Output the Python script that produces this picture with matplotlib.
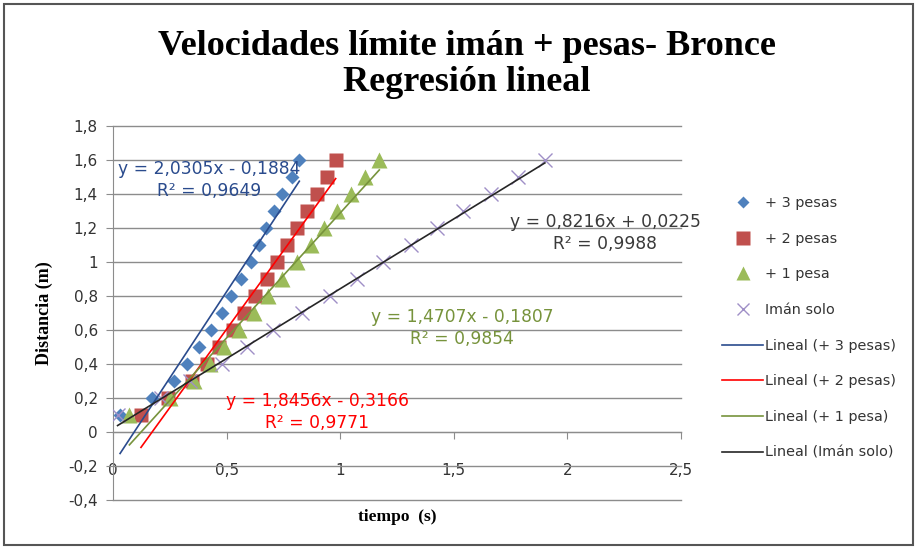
import numpy as np
import matplotlib
matplotlib.use("Agg")
import matplotlib.pyplot as plt
from matplotlib.lines import Line2D
from matplotlib.patches import Rectangle
from matplotlib.ticker import FuncFormatter

# --- data ---
dist = [0.1, 0.2, 0.3, 0.4, 0.5, 0.6, 0.7, 0.8, 0.9, 1.0, 1.1, 1.2, 1.3, 1.4, 1.5, 1.6]

t_3pesas = [0.031, 0.170, 0.268, 0.327, 0.380, 0.430, 0.478, 0.518,
            0.562, 0.606, 0.644, 0.672, 0.709, 0.745, 0.787, 0.820]
t_2pesas = [0.123, 0.244, 0.346, 0.412, 0.467, 0.527, 0.577, 0.625,
            0.676, 0.720, 0.767, 0.808, 0.852, 0.896, 0.940, 0.980]
t_1pesa = [0.072, 0.251, 0.357, 0.427, 0.489, 0.556, 0.621, 0.684,
           0.742, 0.808, 0.870, 0.929, 0.987, 1.046, 1.109, 1.172]
t_iman = [0.020, 0.210, 0.339, 0.478, 0.588, 0.706, 0.830, 0.955,
          1.073, 1.190, 1.310, 1.425, 1.542, 1.662, 1.784, 1.901]

series_names = ["+ 3 pesas", "+ 2 pesas", "+ 1 pesa", "Imán solo"]
slopes = [2.0305, 1.8456, 1.4707, 0.8216]
intercepts = [-0.1884, -0.3166, -0.1807, 0.0225]
r2_values = [0.9649, 0.9771, 0.9854, 0.9988]

y_ticks = [-0.4, -0.2, 0, 0.2, 0.4, 0.6, 0.8, 1, 1.2, 1.4, 1.6, 1.8]
x_ticks = [0, 0.5, 1, 1.5, 2, 2.5]

# --- styles ---
marker_colors = ["#4F81BD", "#C0504D", "#9BBB59", "#9F8FC7"]
markers = ["D", "s", "^", "x"]
marker_sizes = [7, 10.5, 11, 10]
line_colors = ["#2A4B8D", "#FF0000", "#77933C", "#262626"]
label_colors = ["#2A4B8D", "#FF0000", "#77933C", "#3A3A3A"]
# centre of each two-line equation label (data coords)
label_pos = [(0.425, 1.485), (0.90, 0.12), (1.536, 0.612), (2.166, 1.17)]

plt.rcParams['font.family'] = ['DejaVu Sans']

fig = plt.figure(figsize=(9.19, 5.49), dpi=100)
ax = fig.add_axes([0.123, 0.089, 0.618, 0.681])

times = [t_3pesas, t_2pesas, t_1pesa, t_iman]

for i, t in enumerate(times):
    if markers[i] == "x":
        ax.plot(t, dist, linestyle="none", marker="x", ms=marker_sizes[i],
                mew=1.0, color=marker_colors[i], zorder=3)
    else:
        ax.plot(t, dist, linestyle="none", marker=markers[i], ms=marker_sizes[i],
                mec="none", color=marker_colors[i], zorder=3)

# trendlines over each series' time range
for i, t in enumerate(times):
    xs = np.array([min(t), max(t)])
    ax.plot(xs, slopes[i] * xs + intercepts[i], color=line_colors[i], lw=1.2, zorder=4)


def comma(v, pos=None):
    s = f"{v:.1f}".rstrip("0").rstrip(".")
    if s == "-0":
        s = "0"
    return s.replace(".", ",")


for i in range(4):
    sign = "-" if intercepts[i] < 0 else "+"
    eq = f"y = {slopes[i]:.4f}x {sign} {abs(intercepts[i]):.4f}".replace(".", ",")
    r2 = f"R² = {r2_values[i]:.4f}".replace(".", ",")
    lx, ly = label_pos[i]
    ax.text(lx, ly, eq + "\n" + r2, color=label_colors[i], fontsize=12.3,
            ha="center", va="center", linespacing=1.3, zorder=5)

ax.set_xlim(0, 2.5)
ax.set_ylim(-0.4, 1.8)
ax.set_yticks(y_ticks)
ax.set_xticks(x_ticks)
ax.xaxis.set_major_formatter(FuncFormatter(comma))
ax.yaxis.set_major_formatter(FuncFormatter(comma))

ax.grid(axis="y", color="#8C8C8C", lw=1.0)
for gl in ax.get_ygridlines():
    gl.set_clip_on(False)
ax.set_axisbelow(True)
ax.spines["top"].set_visible(False)
ax.spines["right"].set_visible(False)
ax.spines["bottom"].set_position(("data", 0))
ax.spines["bottom"].set_color("#8C8C8C")
ax.spines["left"].set_color("#8C8C8C")
ax.tick_params(axis="both", colors="#8C8C8C", labelcolor="#333333", labelsize=11, length=5)
ax.tick_params(axis="x", pad=17)
ax.tick_params(axis="y", pad=6)

ax.set_xlabel("tiempo  (s)", family="Liberation Serif", fontweight="bold", fontsize=12.5)
ax.xaxis.set_label_coords(0.5, -0.025)
ax.set_ylabel("Distancia (m)", family="Liberation Serif", fontweight="bold", fontsize=13)
ax.yaxis.set_label_coords(-0.105, 0.5)

fig.text(0.508, 0.883, "Velocidades límite imán + pesas- Bronce\nRegresión lineal",
         family="Liberation Serif", fontweight="bold", fontsize=26,
         ha="center", va="center", linespacing=1.13)

handles = []
for i in range(4):
    if markers[i] == "x":
        handles.append(Line2D([], [], linestyle="none", marker="x", ms=9, mew=1.0,
                              color=marker_colors[i], label=series_names[i]))
    else:
        handles.append(Line2D([], [], linestyle="none", marker=markers[i], ms=marker_sizes[i] - 1,
                              mec="none", color=marker_colors[i], label=series_names[i]))
for i in range(4):
    handles.append(Line2D([], [], color=line_colors[i], lw=1.2,
                          label=f"Lineal ({series_names[i]})"))

leg = fig.legend(handles=handles, loc="center left", bbox_to_anchor=(0.772, 0.403),
                 frameon=False, fontsize=10.4, labelspacing=1.5, handlelength=2.8,
                 handletextpad=0.15, labelcolor="#333333")

fig.patches.append(Rectangle((0.004, 0.008), 0.99, 0.984, transform=fig.transFigure,
                             fill=False, ec="#555555", lw=1.5))

fig.savefig("out.png", dpi=100)
